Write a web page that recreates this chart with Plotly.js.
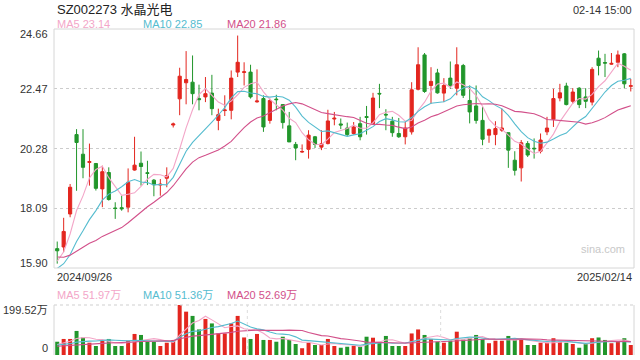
<!DOCTYPE html>
<html><head><meta charset="utf-8">
<script src="https://cdn.plot.ly/plotly-3.0.1.min.js"></script>
<style>html,body{margin:0;padding:0;background:#fff}#chart{width:640px;height:360px}</style>
</head><body><div id="chart"></div>
<script>
const dates = ["2024/09/26","2024/09/27","2024/09/30",
"2024/10/08","2024/10/09","2024/10/10","2024/10/11","2024/10/14","2024/10/15","2024/10/16","2024/10/17","2024/10/18","2024/10/21","2024/10/22","2024/10/23","2024/10/24","2024/10/25","2024/10/28","2024/10/29","2024/10/30","2024/10/31",
"2024/11/01","2024/11/04","2024/11/05","2024/11/06","2024/11/07","2024/11/08","2024/11/11","2024/11/12","2024/11/13","2024/11/14","2024/11/15","2024/11/18","2024/11/19","2024/11/20","2024/11/21","2024/11/22","2024/11/25","2024/11/26","2024/11/27","2024/11/28","2024/11/29",
"2024/12/02","2024/12/03","2024/12/04","2024/12/05","2024/12/06","2024/12/09","2024/12/10","2024/12/11","2024/12/12","2024/12/13","2024/12/16","2024/12/17","2024/12/18","2024/12/19","2024/12/20","2024/12/23","2024/12/24","2024/12/25","2024/12/26","2024/12/27","2024/12/30","2024/12/31",
"2025/01/02","2025/01/03","2025/01/06","2025/01/07","2025/01/08","2025/01/09","2025/01/10","2025/01/13","2025/01/14","2025/01/15","2025/01/16","2025/01/17","2025/01/20","2025/01/21","2025/01/22","2025/01/23","2025/01/24","2025/01/27",
"2025/02/05","2025/02/06","2025/02/07","2025/02/10","2025/02/11","2025/02/12","2025/02/13","2025/02/14"];

const openP = [16.61,16.67,17.88,20.79,20.07,19.77,19.73,18.80,19.40,18.10,
18.11,18.13,19.49,19.74,19.39,19.12,18.94,19.19,21.14,22.10,
22.69,22.71,22.11,22.17,22.31,21.31,21.67,21.68,23.08,23.07,
23.08,21.99,22.11,21.31,22.09,21.89,21.11,20.43,20.15,20.25,
20.71,20.33,20.46,21.36,21.18,21.03,20.83,21.19,21.45,21.19,
22.30,21.53,21.28,20.83,20.71,20.89,22.45,23.71,22.59,23.05,
22.31,22.86,22.49,23.32,22.04,21.84,21.31,20.77,20.79,20.95,
20.86,19.85,19.57,20.46,20.29,20.18,20.89,21.35,22.13,22.57,
22.01,22.49,22.17,21.98,23.59,23.43,23.37,23.44,23.75,22.56];

const closeP = [16.53,17.24,18.86,20.50,19.59,19.80,18.82,19.43,18.41,18.08,
18.07,19.04,19.67,19.62,19.37,18.95,18.97,19.28,21.18,22.93,
22.81,22.29,22.07,22.29,21.74,21.52,21.69,22.86,23.44,23.09,
22.17,22.02,21.07,22.04,22.07,21.23,20.52,20.30,20.17,20.77,
20.43,20.45,21.29,21.39,21.14,20.79,21.07,20.71,21.42,22.13,
22.28,21.51,20.86,20.71,21.03,22.43,23.35,22.37,22.74,22.32,
22.59,22.59,23.35,22.23,21.62,21.31,20.62,20.97,21.01,21.03,
20.22,19.48,20.49,20.04,20.27,20.59,21.03,22.11,22.32,21.89,
22.35,21.89,22.01,23.18,23.32,23.41,23.40,23.71,22.65,22.58];

const highP = [16.87,17.74,18.98,20.99,20.99,20.46,19.75,19.65,19.59,18.31,
18.55,19.55,20.71,20.17,19.83,19.16,19.16,19.59,21.23,23.24,
23.85,23.69,22.62,22.90,22.98,21.74,22.23,23.14,24.42,23.44,
23.35,23.18,22.23,22.11,22.25,21.91,21.62,20.52,20.43,20.95,
20.74,20.95,21.70,21.62,21.38,21.23,21.25,21.44,21.84,22.32,
22.65,21.72,21.44,21.40,21.25,22.71,23.99,23.78,23.26,23.20,
22.86,23.47,23.99,23.38,22.59,22.59,21.80,21.01,21.28,21.74,
20.86,20.18,20.59,20.55,20.65,20.83,21.44,22.47,22.65,22.69,
22.49,22.53,22.49,23.26,23.87,23.75,23.78,23.87,23.78,22.83];

const lowP = [16.06,16.48,17.76,18.73,19.19,18.92,18.74,18.13,18.37,17.70,
18.00,17.94,19.47,18.92,18.94,18.53,18.55,18.86,21.05,21.50,
21.90,21.90,21.68,21.98,21.50,20.95,21.47,21.35,22.90,22.59,
22.11,21.96,20.89,21.19,21.68,21.01,20.52,19.85,20.12,19.91,
20.30,20.22,20.43,21.13,20.99,20.74,20.79,20.58,20.79,21.16,
21.76,20.95,20.71,20.67,20.43,20.79,22.41,22.32,21.92,22.29,
21.98,22.47,22.23,22.13,21.20,21.19,20.40,20.49,20.40,20.89,
19.57,19.29,19.07,19.97,19.91,20.10,20.77,21.07,22.01,21.86,
21.92,21.76,21.76,21.86,22.96,22.90,23.35,23.26,22.49,22.37];

// volume in 万 shares
const volume = [53,64,64,96,70,49,36,56,64,36,
36,57,84,80,53,53,36,49,60,199.52,
173,156,102,144,126,86,86,126,156,70,
64,84,60,60,53,73,60,44,27,49,
40,40,64,36,29,33,37,33,73,69,
49,76,36,36,36,86,102,80,64,53,
49,57,93,62,67,80,64,47,57,57,
76,60,64,40,40,49,49,67,53,49,
44,29,44,67,70,60,47,53,67,40];

// estimated sessions before the window (inferred from where the MA lines start)
const priorCloses = [17.4,17.3,17.3,17.0,16.9,16.7,16.5,16.4,16.2,15.5,15.5,15.6,15.6,15.7,15.7,15.5,15.6,16.2,16.9];
const priorVolumes = [28,32,30,27,31,33,29,30,28,32,36,40,35,38,41,30,33,42,52];

const yTickVals = [24.66,22.47,20.28,18.09,15.90];
const volTickText = ["199.52万","0"];
const legendPrice = ["MA5 23.14","MA10 22.85","MA20 21.86"];
const legendVol = ["MA5 51.97万","MA10 51.36万","MA20 52.69万"];
const maColors = ["#f3a6c8","#55bccf","#d2508a"];
const UP = "#e3261f", DOWN = "#21962b";

function movAvg(vals, prior, n) {
  const all = prior.concat(vals);
  const off = prior.length;
  return vals.map((v, i) => {
    let s = 0; for (let k = 0; k < n; k++) s += all[off + i - k];
    return s / n;
  });
}

const idx = dates;
const traces = [];
traces.push({
  type: 'candlestick', x: idx, open: openP, high: highP, low: lowP, close: closeP,
  xaxis: 'x', yaxis: 'y',
  increasing: {line: {color: UP, width: 1}, fillcolor: UP},
  decreasing: {line: {color: DOWN, width: 1}, fillcolor: DOWN},
  whiskerwidth: 0, hoverinfo: 'skip', showlegend: false
});
[5,10,20].forEach((n, j) => {
  traces.push({type: 'scatter', mode: 'lines', x: idx, y: movAvg(closeP, priorCloses, n),
    xaxis: 'x', yaxis: 'y', line: {color: maColors[j], width: 1.1}, hoverinfo: 'skip', showlegend: false});
});
traces.push({type: 'bar', x: idx, y: volume, xaxis: 'x2', yaxis: 'y2', width: 0.62,
  marker: {color: closeP.map((c, i) => c >= openP[i] ? UP : DOWN), line: {width: 0}},
  hoverinfo: 'skip', showlegend: false});
[5,10,20].forEach((n, j) => {
  traces.push({type: 'scatter', mode: 'lines', x: idx, y: movAvg(volume, priorVolumes, n),
    xaxis: 'x2', yaxis: 'y2', line: {color: maColors[j], width: 1.1}, hoverinfo: 'skip', showlegend: false});
});

// pixel helpers (plot area: x 54..634, y 29..355)
const H = 326, L = 54, W = 580;
const py = Y => (355 - Y) / H;
const px = X => (X - L) / W;
const FONT = 'Liberation Sans, Arial, Noto Sans CJK SC, sans-serif';

const ann = [];
ann.push({text: 'SZ002273 水晶光电', xref: 'paper', yref: 'paper', x: px(55), y: py(10), xanchor: 'left', yanchor: 'middle', showarrow: false, font: {size: 13, color: '#222', family: FONT}});
ann.push({text: '02-14 15:00', xref: 'paper', yref: 'paper', x: px(634), y: py(10), xanchor: 'right', yanchor: 'middle', showarrow: false, font: {size: 11, color: '#333', family: FONT}});
const legX = [55, 140.5, 225];
legendPrice.forEach((t, j) => ann.push({text: t, xref: 'paper', yref: 'paper', x: px(legX[j]), y: py(24), xanchor: 'left', yanchor: 'middle', showarrow: false, font: {size: 11, color: maColors[j], family: FONT}}));
legendVol.forEach((t, j) => ann.push({text: t, xref: 'paper', yref: 'paper', x: px(legX[j]), y: py(295), xanchor: 'left', yanchor: 'middle', showarrow: false, font: {size: 11, color: maColors[j], family: FONT}}));
yTickVals.forEach((v, i) => {
  let shift = 0;
  if (i === 0) shift = -5;
  if (i === yTickVals.length - 1) shift = 5;
  ann.push({text: v.toFixed(2), xref: 'paper', yref: 'y', x: px(50), y: v, yshift: shift, xanchor: 'right', yanchor: 'middle', showarrow: false, font: {size: 11, color: '#333', family: FONT}});
});
ann.push({text: volTickText[0], xref: 'paper', yref: 'paper', x: px(50), y: py(310), xanchor: 'right', yanchor: 'middle', showarrow: false, font: {size: 11, color: '#333', family: FONT}});
ann.push({text: volTickText[1], xref: 'paper', yref: 'paper', x: px(50), y: py(348), xanchor: 'right', yanchor: 'middle', showarrow: false, font: {size: 11, color: '#333', family: FONT}});
ann.push({text: dates[0], xref: 'paper', yref: 'paper', x: px(55), y: py(277), xanchor: 'left', yanchor: 'middle', showarrow: false, font: {size: 11, color: '#333', family: FONT}});
ann.push({text: dates[dates.length - 1], xref: 'paper', yref: 'paper', x: px(634), y: py(277), xanchor: 'right', yanchor: 'middle', showarrow: false, font: {size: 11, color: '#333', family: FONT}});
ann.push({text: 'sina.com', xref: 'paper', yref: 'paper', x: px(603), y: py(249), xanchor: 'center', yanchor: 'middle', showarrow: false, font: {size: 11, color: '#c8c8c8', family: FONT}});

const mainBottom = py(268), volTop = py(305);
const shapes = [
  {type: 'rect', xref: 'paper', yref: 'paper', x0: 0, x1: 1, y0: mainBottom, y1: 1, line: {color: '#d6d6d6', width: 1}},
  {type: 'line', xref: 'paper', yref: 'paper', x0: 0, x1: 1, y0: volTop, y1: volTop, line: {color: '#cfcfcf', width: 1, dash: 'dot'}},
  {type: 'line', xref: 'paper', yref: 'paper', x0: 0, x1: 0, y0: 0, y1: volTop, line: {color: '#d6d6d6', width: 1}},
  {type: 'line', xref: 'paper', yref: 'paper', x0: 1, x1: 1, y0: 0, y1: volTop, line: {color: '#d6d6d6', width: 1}},
  {type: 'line', xref: 'paper', yref: 'paper', x0: 1/3, x1: 1/3, y0: 0, y1: volTop, line: {color: '#dcdcdc', width: 1, dash: 'dot'}},
  {type: 'line', xref: 'paper', yref: 'paper', x0: 2/3, x1: 2/3, y0: 0, y1: volTop, line: {color: '#dcdcdc', width: 1, dash: 'dot'}}
];

const layout = {
  width: 640, height: 360,
  margin: {l: 54, r: 6, t: 29, b: 5, pad: 0},
  paper_bgcolor: '#fff', plot_bgcolor: '#fff',
  showlegend: false, dragmode: false, hovermode: false,
  xaxis: {type: 'category', range: [-0.5, dates.length - 0.5], domain: [0, 1], anchor: 'y',
    showticklabels: false, showgrid: false, zeroline: false, showline: false, ticks: '',
    rangeslider: {visible: false}, fixedrange: true},
  xaxis2: {type: 'category', range: [-0.5, dates.length - 0.5], domain: [0, 1], anchor: 'y2', matches: 'x',
    showticklabels: false, showgrid: false, zeroline: false, showline: false, ticks: '', fixedrange: true},
  yaxis: {domain: [mainBottom, 1], range: [yTickVals[yTickVals.length - 1], yTickVals[0]],
    tickvals: yTickVals.slice(1, -1), showticklabels: false, ticks: '',
    showgrid: true, gridcolor: '#cccccc', griddash: 'dot', gridwidth: 1,
    zeroline: false, showline: false, fixedrange: true},
  yaxis2: {domain: [0, volTop], range: [0, 199.52], showticklabels: false, ticks: '',
    showgrid: false, zeroline: false, showline: false, fixedrange: true},
  annotations: ann, shapes: shapes
};

Plotly.newPlot('chart', traces, layout, {staticPlot: true, displayModeBar: false});
</script></body></html>
